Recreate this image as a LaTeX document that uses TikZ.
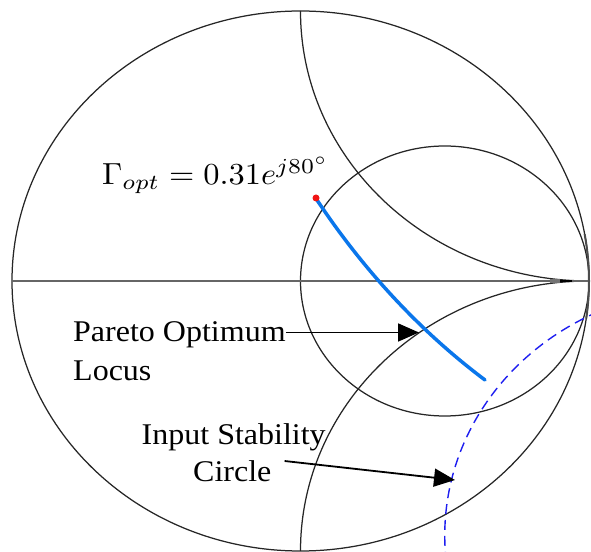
\documentclass[tikz,border=0pt]{standalone}
\usepackage{fontspec}
\setmainfont{Liberation Serif}
\usetikzlibrary{arrows.meta}
\definecolor{locusblue}{RGB}{10,118,235}
\definecolor{dotred}{RGB}{240,20,20}
\definecolor{stabblue}{RGB}{30,30,240}
\begin{document}
\begin{tikzpicture}[x=1pt,y=1pt,
  chart/.style={line width=1.25pt, black!85},
  axisline/.style={line width=1.4pt, black!60},
  lbl/.style={font=\fontsize{32}{38}\selectfont, inner sep=0pt, anchor=base west},
  pointer/.style={line width=1.8pt, -{Triangle[length=21pt,width=18pt]}},
]
\useasboundingbox (0,0) rectangle (591,551);
\clip (0,0) rectangle (591,551);
\begin{scope}[shift={(300.5,270)}, xscale=288.5, yscale=270]
  \begin{scope}
    \clip (0,0) circle (1);
    \draw[chart] (1,1) circle (1);
    \draw[chart] (1,-1) circle (1);
  \end{scope}
  \draw[chart] (0,0) circle (1);
  \draw[chart] (0.5,0) circle (0.5);
  \draw[axisline] (-1,0) -- (1,0);
  \draw[line width=3.5pt, black!55] (0.865,0) -- (0.90,0);
  \draw[line width=2.5pt, black] (0.90,0) -- (0.941,0);
  \draw[line width=2pt, black!70] (1,0) arc[start angle=0, end angle=10, radius=1];
  \draw[line width=2pt, black!70] (1,0) arc[start angle=0, end angle=-8, radius=1];
  \draw[stabblue, dash pattern=on 10pt off 6pt, line width=1.4pt] (1.411,-0.9426) circle (0.911);
\end{scope}
\coordinate (gopt) at (316,353);
\coordinate (lend) at (485,171);
\draw[line width=3.5pt, locusblue, line cap=round] (317,351) .. controls (362.7,282.2) and (418.7,220.8) .. (lend);
\fill[dotred] (gopt) circle (3.5);
\node[inner sep=0pt, anchor=base west] (gam) at (102,366) {\scalebox{1}[0.94]{\resizebox{227pt}{!}{$\Gamma_{opt} = 0.31e^{j80^\circ}$}}};
\node[lbl] (pto) at (73,209) {\scalebox{1}[0.94]{Pareto Optimum}};
\node[lbl] (loc) at (73,170.5) {\scalebox{1}[0.94]{Locus}};
\node[lbl] (isc) at (141.5,106) {\scalebox{1}[0.94]{Input Stability}};
\node[lbl] (cir) at (193,69.5) {\scalebox{1}[0.94]{Circle}};
\coordinate (ptip) at (419,218.5);
\coordinate (ctip) at (455,71);
\draw[pointer] ([yshift=9.5pt]pto.base east) -- (ptip);
\draw[pointer] ([xshift=13pt,yshift=20.5pt]cir.base east) -- (ctip);
\end{tikzpicture}
\end{document}
